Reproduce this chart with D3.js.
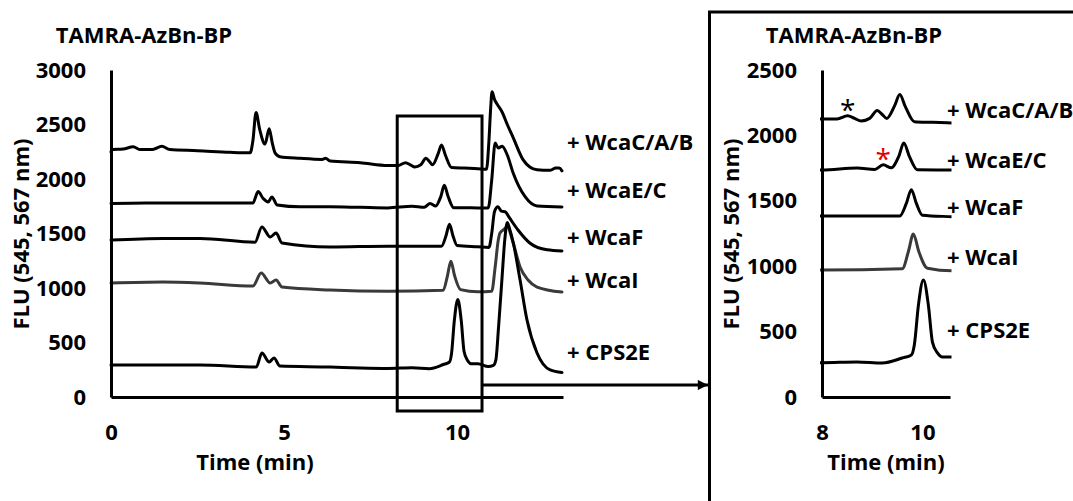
<!DOCTYPE html>
<html>
<head>
<meta charset="utf-8">
<script src="https://cdn.jsdelivr.net/npm/d3@7"></script>
<style>
  body { margin: 0; background: #fff; }
  svg text { font-family: 'Open Sans', sans-serif; font-weight: 700; fill: #000; }
</style>
</head>
<body>
<div id="chart"></div>
<script>
// traces: [time (min), FLU]
const seriesNames = ['+ WcaC/A/B', '+ WcaE/C', '+ WcaF', '+ WcaI', '+ CPS2E'];

const wcaCAB = [[0, 2250], [0.05, 2270], [0.35, 2275], [0.64, 2295], [0.85, 2270], [1.2, 2270],
  [1.47, 2300], [1.7, 2270], [2.5, 2260], [3.44, 2245], [4.02, 2240], [4.1, 2350], [4.19, 2610],
  [4.3, 2450], [4.45, 2320], [4.57, 2460], [4.66, 2330], [4.74, 2240], [4.88, 2205], [5.46, 2190],
  [6.1, 2180], [6.2, 2190], [6.33, 2165], [7.2, 2150], [8.0, 2125], [8.3, 2125], [8.51, 2150],
  [8.65, 2130], [8.78, 2110], [8.95, 2130], [9.1, 2190], [9.2, 2160], [9.29, 2130], [9.45, 2230],
  [9.55, 2312], [9.66, 2220], [9.84, 2105], [10.2, 2100], [10.6, 2095], [10.85, 2090], [10.92, 2350],
  [10.97, 2650], [11.01, 2800], [11.08, 2730], [11.15, 2690], [11.3, 2615], [11.45, 2500],
  [11.62, 2380], [11.91, 2175], [12.1, 2110], [12.31, 2085], [12.68, 2080], [12.85, 2100],
  [12.95, 2100], [13.03, 2075]];

const wcaEC = [[0, 1775], [1.0, 1780], [2.57, 1780], [4.1, 1780], [4.25, 1885], [4.4, 1820],
  [4.54, 1790], [4.65, 1835], [4.8, 1762], [5.46, 1745], [6.33, 1745], [7.2, 1740], [8.0, 1735],
  [8.7, 1750], [9.05, 1740], [9.22, 1775], [9.38, 1752], [9.53, 1840], [9.63, 1942], [9.74, 1840],
  [9.9, 1737], [10.6, 1735], [10.9, 1735], [11.0, 1990], [11.1, 2330], [11.19, 2285], [11.3, 2300],
  [11.45, 2220], [11.62, 2055], [11.97, 1835], [12.31, 1752], [13.03, 1743]];

const wcaF = [[0, 1440], [1.5, 1455], [2.57, 1455], [4.16, 1420], [4.36, 1560], [4.6, 1468],
  [4.77, 1505], [4.94, 1413], [6.33, 1376], [8.0, 1384], [9.55, 1384], [9.68, 1480], [9.78, 1585],
  [9.88, 1480], [10.0, 1390], [10.6, 1378], [10.92, 1372], [11.0, 1500], [11.08, 1700], [11.18, 1745],
  [11.28, 1705], [11.39, 1700], [11.5, 1650], [11.76, 1532], [12.1, 1413], [12.6, 1350], [13.03, 1340]];

const wcaI = [[0, 1046], [1.5, 1055], [2.57, 1046], [4.1, 1018], [4.34, 1138], [4.6, 1046],
  [4.77, 1073], [4.94, 1009], [6.33, 982], [8.0, 971], [9.6, 980], [9.72, 1110], [9.82, 1246],
  [9.93, 1110], [10.1, 985], [10.6, 965], [11.0, 970], [11.1, 1193], [11.19, 1440], [11.24, 1505],
  [11.33, 1532], [11.45, 1560], [11.62, 1413], [11.82, 1193], [12.05, 1073], [12.31, 1009], [13.03, 963]];

const cps2e = [[0, 294], [2.57, 294], [4.2, 275], [4.36, 404], [4.57, 321], [4.71, 358], [4.88, 284],
  [6.33, 275], [7.2, 266], [8.0, 262], [8.7, 268], [9.2, 260], [9.6, 298], [9.78, 321], [9.84, 400],
  [9.92, 700], [10.02, 895], [10.12, 700], [10.2, 420], [10.3, 337], [10.4, 306], [10.6, 306],
  [10.9, 280], [11.05, 290], [11.12, 340], [11.2, 650], [11.3, 1100], [11.38, 1450], [11.45, 1600],
  [11.52, 1540], [11.62, 1420], [11.82, 1073], [12.02, 706], [12.31, 404], [12.69, 248], [13.03, 225]];

const seriesData = [wcaCAB, wcaEC, wcaF, wcaI, cps2e];
const seriesColors = ['#000', '#000', '#000', '#3a3a3a', '#000'];

const leftYTicks = [0, 500, 1000, 1500, 2000, 2500, 3000];
const leftXTicks = [0, 5, 10];
const rightYTicks = [0, 500, 1000, 1500, 2000, 2500];
const rightXTicks = [8, 10];

// starred minor peaks in the zoomed panel: [series index, time, colour]
const stars = [[0, 8.51, '#000'], [1, 9.22, '#e00000']];

const fontSize = 22;

const svg = d3.select('#chart').append('svg')
  .attr('width', 1073)
  .attr('height', 501);

const line = (x, y) => d3.line()
  .x(d => x(d[0]))
  .y(d => y(d[1]))
  .curve(d3.curveMonotoneX);

function drawPanel(opts) {
  const x = d3.scaleLinear().domain(opts.xDomain).range(opts.xRange);
  const y = d3.scaleLinear().domain(opts.yDomain).range([397, 70]);
  const g = svg.append('g');

  const clipId = `clip-${opts.id}`;
  svg.append('clipPath').attr('id', clipId)
    .append('rect')
    .attr('x', opts.xRange[0] - 2)
    .attr('y', 0)
    .attr('width', opts.xRange[1] - opts.xRange[0] + 3.5)
    .attr('height', 501);

  g.append('g')
    .attr('clip-path', `url(#${clipId})`)
    .selectAll('path')
    .data(seriesData)
    .enter().append('path')
    .attr('d', d => line(x, y)(d))
    .attr('fill', 'none')
    .attr('stroke', (d, i) => seriesColors[i])
    .attr('stroke-width', 3)
    .attr('stroke-linejoin', 'round')
    .attr('stroke-linecap', 'round');

  // axes
  const yAxis = g.append('g')
    .attr('transform', `translate(${opts.xRange[0]},0)`)
    .call(d3.axisLeft(y).tickValues(opts.yTicks).tickSize(0).tickPadding(25)
      .tickFormat(d3.format('d')));
  const xAxis = g.append('g')
    .attr('transform', 'translate(0,397)')
    .call(d3.axisBottom(x).tickValues(opts.xTicks).tickSize(0).tickPadding(27)
      .tickFormat(d3.format('d')));
  [yAxis, xAxis].forEach((a) => {
    a.attr('font-family', null).attr('font-size', null);
    a.select('.domain').attr('stroke', '#000').attr('stroke-width', 3);
    a.selectAll('text').style('font-size', `${fontSize}px`);
  });

  // series labels
  g.selectAll('.seriesLabel')
    .data(seriesNames)
    .enter().append('text')
    .attr('class', 'seriesLabel')
    .attr('x', opts.labelX)
    .attr('y', (d, i) => opts.labelY[i])
    .style('font-size', `${fontSize}px`)
    .text(d => d);

  g.append('text')
    .attr('x', opts.titleX)
    .attr('y', 43)
    .attr('text-anchor', 'middle')
    .style('font-size', `${fontSize}px`)
    .text('TAMRA-AzBn-BP');

  g.append('text')
    .attr('x', opts.xTitleX)
    .attr('y', 470)
    .attr('text-anchor', 'middle')
    .style('font-size', `${fontSize}px`)
    .text('Time (min)');

  g.append('text')
    .attr('transform', `translate(${opts.yTitleX},234)rotate(-90)`)
    .attr('text-anchor', 'middle')
    .style('font-size', `${fontSize}px`)
    .text('FLU (545, 567 nm)');

  return { x, y, g };
}

const left = drawPanel({
  id: 'left',
  xDomain: [0, 13.06],
  xRange: [111, 563],
  yDomain: [0, 3000],
  yTicks: leftYTicks,
  xTicks: leftXTicks,
  labelX: 567,
  labelY: [150, 198, 245, 288, 360],
  titleX: 144,
  xTitleX: 255,
  yTitleX: 29,
});

const right = drawPanel({
  id: 'right',
  xDomain: [8, 10.55],
  xRange: [822, 950],
  yDomain: [0, 2500],
  yTicks: rightYTicks,
  xTicks: rightXTicks,
  labelX: 947,
  labelY: [118, 168, 215, 265, 338],
  titleX: 854,
  xTitleX: 886,
  yTitleX: 739,
});

// asterisks above the minor peaks
right.g.selectAll('.star')
  .data(stars)
  .enter().append('text')
  .attr('class', 'star')
  .attr('x', d => right.x(d[1]))
  .attr('y', (d) => {
    const pt = seriesData[d[0]].find(p => p[0] === d[1]);
    return right.y(pt[1]) + 4;
  })
  .attr('text-anchor', 'middle')
  .style('font-size', '28px')
  .style('font-weight', 400)
  .style('fill', d => d[2])
  .text('*');

// zoom window on the left panel and the arrow to the right panel
const zoomBox = { t0: 8.27, t1: 10.72, top: 116, bottom: 411 };
svg.append('rect')
  .attr('x', left.x(zoomBox.t0))
  .attr('y', zoomBox.top)
  .attr('width', left.x(zoomBox.t1) - left.x(zoomBox.t0))
  .attr('height', zoomBox.bottom - zoomBox.top)
  .attr('fill', 'none')
  .attr('stroke', '#000')
  .attr('stroke-width', 3);

svg.append('defs').append('marker')
  .attr('id', 'arrow')
  .attr('viewBox', '0 0 10 10')
  .attr('refX', 10)
  .attr('refY', 5)
  .attr('markerWidth', 4)
  .attr('markerHeight', 3.4)
  .attr('orient', 'auto')
  .attr('markerUnits', 'strokeWidth')
  .append('path')
  .attr('d', 'M0,0L10,5L0,10Z')
  .attr('fill', '#000');

svg.append('line')
  .attr('x1', left.x(zoomBox.t1))
  .attr('x2', 708)
  .attr('y1', 385)
  .attr('y2', 385)
  .attr('stroke', '#000')
  .attr('stroke-width', 3)
  .attr('marker-end', 'url(#arrow)');

// frame of the zoomed panel
svg.append('rect')
  .attr('x', 709.5)
  .attr('y', 12)
  .attr('width', 500)
  .attr('height', 600)
  .attr('fill', 'none')
  .attr('stroke', '#000')
  .attr('stroke-width', 3);
</script>
</body>
</html>
